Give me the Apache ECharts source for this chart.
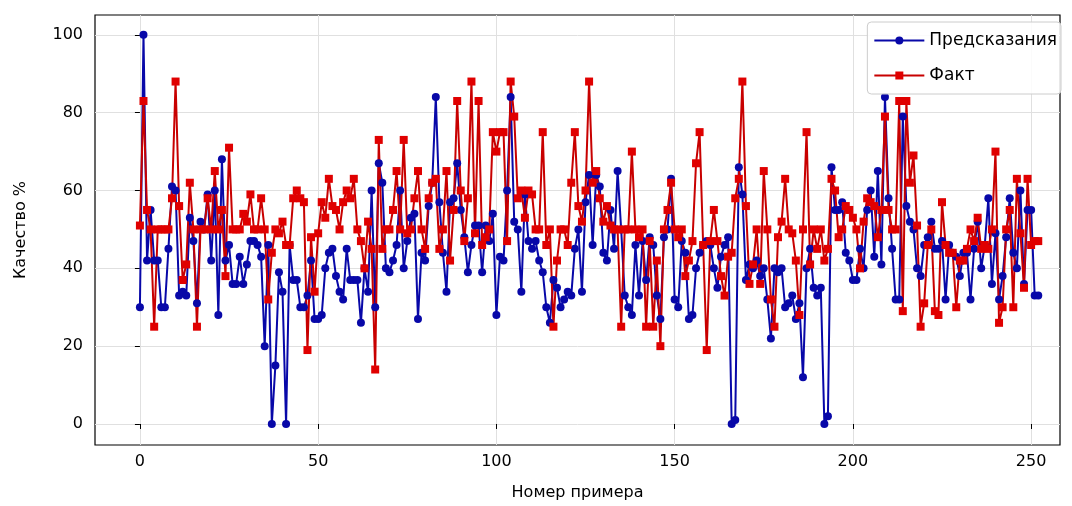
<!DOCTYPE html>
<html>
<head>
<meta charset="utf-8">
<script src="https://cdn.jsdelivr.net/npm/echarts@6/dist/echarts.min.js"></script>
<style>
  html, body { margin: 0; padding: 0; background: #fff; }
  #main { width: 1072px; height: 506px; }
</style>
</head>
<body>
<div id="main"></div>
<script>
// значения (приблизительно)
var predicted = [
  30,100,42,55,42,42,30,30,45,61, 60,33,34,33,53,47,31,52,50,59,
  42,60,28,68,42,46,36,36,43,36, 41,47,47,46,43,20,46,0,15,39,
  34,0,46,37,37,30,30,33,42,27, 27,28,40,44,45,38,34,32,45,37,
  37,37,26,40,34,60,30,67,62,40, 39,42,46,60,40,47,53,54,27,44,
  42,56,62,84,57,44,34,57,58,67, 55,48,39,46,51,51,39,51,47,54,
  28,43,42,60,84,52,50,34,59,47, 45,47,42,39,30,26,37,35,30,32,
  34,33,45,50,34,57,64,46,64,61, 44,42,55,45,65,50,33,30,28,46,
  33,47,37,48,46,33,27,48,50,63, 32,30,47,44,27,28,40,44,46,47,
  46,40,35,43,46,48,0,1,66,59, 37,41,40,42,38,40,32,22,40,39,
  40,30,31,33,27,31,12,40,45,35, 33,35,0,2,66,55,55,57,44,42,
  37,37,45,40,55,60,43,65,41,84, 58,45,32,32,79,56,52,50,40,38,
  46,48,52,45,45,47,32,46,44,43, 38,44,44,32,45,52,40,46,58,36,
  49,32,38,48,58,44,40,60,36,55, 55,33,33
];
var actual = [
  51,83,55,50,25,50,50,50,50,58, 88,56,37,41,62,50,25,50,50,58,
  50,65,50,55,38,71,50,50,50,54, 52,59,50,50,58,50,32,44,50,49,
  52,46,46,58,60,58,57,19,48,34, 49,57,53,63,56,55,50,57,60,58,
  63,50,47,40,52,45,14,73,45,50, 50,55,65,50,73,49,50,58,65,50,
  45,58,62,63,45,50,65,42,55,83, 60,47,58,88,49,83,46,48,50,75,
  70,75,75,47,88,79,58,60,53,60, 59,50,50,75,46,50,25,42,50,50,
  46,62,75,56,52,60,88,62,65,58, 52,56,51,50,50,25,50,50,70,50,
  48,50,25,47,25,42,20,50,55,62, 50,48,50,38,42,47,67,75,46,19,
  47,55,47,38,33,43,44,58,63,88, 56,36,41,50,36,65,50,32,25,48,
  52,63,50,49,42,28,50,75,41,50, 45,50,42,45,63,60,48,50,56,55,
  53,50,40,52,58,57,56,48,55,79, 55,50,50,83,29,83,62,69,51,25,
  31,46,50,29,28,57,46,44,44,30, 42,42,45,50,47,53,45,46,45,50,
  70,26,30,50,55,30,63,49,35,63, 46,47,47
];
var indexes = [];
for (var i = 0; i < predicted.length; i++) indexes.push(i);
var xTicks = [0, 50, 100, 150, 200, 250];
var yTicks = [0, 20, 40, 60, 80, 100];

var myChart = echarts.init(document.getElementById('main'));
var font = 'DejaVu Sans';

var option = {
  animation: false,
  textStyle: { fontFamily: font },
  grid: {
    left: 95, right: 12, top: 15, bottom: 61,
    show: true, borderColor: '#000', borderWidth: 1.2, backgroundColor: 'transparent'
  },
  legend: {
    data: ['Предсказания', 'Факт'],
    orient: 'vertical',
    right: 11, top: 22,
    padding: [10, 4, 10, 6],
    itemGap: 18,
    itemWidth: 50, itemHeight: 10,
    borderColor: '#cccccc', borderWidth: 1, borderRadius: 4,
    backgroundColor: 'rgba(255,255,255,0.85)',
    textStyle: { fontFamily: font, fontSize: 17, color: '#000' }
  },
  xAxis: {
    type: 'value',
    min: -12.6, max: 258.1,
    name: 'Номер примера',
    nameLocation: 'middle', nameGap: 40,
    nameTextStyle: { fontFamily: font, fontSize: 16, color: '#000' },
    axisLine: { show: false },
    axisTick: { show: true, customValues: xTicks, length: 5, lineStyle: { color: '#000' } },
    axisLabel: { customValues: xTicks, fontFamily: font, fontSize: 16, color: '#000', margin: 9 },
    splitLine: { show: true, lineStyle: { color: '#e0e0e0', width: 1 } }
  },
  yAxis: {
    type: 'value',
    min: -5.4, max: 105.1,
    name: 'Качество %',
    nameLocation: 'middle', nameGap: 66,
    nameTextStyle: { fontFamily: font, fontSize: 16, color: '#000' },
    axisLine: { show: false },
    axisTick: { show: true, customValues: yTicks, length: 5, lineStyle: { color: '#000' } },
    axisLabel: { customValues: yTicks, fontFamily: font, fontSize: 16, color: '#000', margin: 12 },
    splitLine: { show: true, lineStyle: { color: '#e0e0e0', width: 1 } }
  },
  series: [
    {
      name: 'Предсказания',
      type: 'line',
      data: indexes.map(function (x, k) { return [x, predicted[k]]; }),
      symbol: 'circle', symbolSize: 8,
      lineStyle: { color: '#0808a8', width: 2 },
      itemStyle: { color: '#0808a8' }
    },
    {
      name: 'Факт',
      type: 'line',
      data: indexes.map(function (x, k) { return [x, actual[k]]; }),
      symbol: 'rect', symbolSize: 8,
      lineStyle: { color: '#c80000', width: 2 },
      itemStyle: { color: '#e00000' }
    }
  ]
};
myChart.setOption(option);
</script>
</body>
</html>
